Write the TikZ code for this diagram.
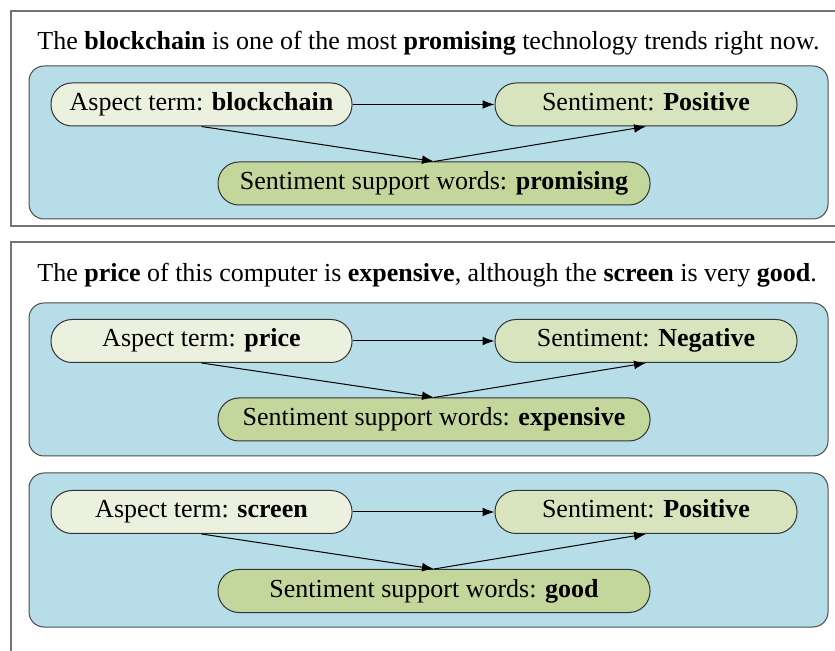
\documentclass[tikz,border=0pt]{standalone}
\usepackage{fontspec}
\setmainfont{Liberation Serif}
\usetikzlibrary{arrows.meta}

\definecolor{panelblue}{HTML}{B7DDE8}
\definecolor{aspectfill}{HTML}{EBF1DE}
\definecolor{sentifill}{HTML}{D7E4BD}
\definecolor{wordsfill}{HTML}{C3D69B}

\begin{document}
\begin{tikzpicture}[
    x=0.5pt, y=-0.5pt,
    outerbox/.style={draw=black!55, line width=0.8pt},
    panel/.style={draw=black!70, fill=panelblue, line width=0.5pt, rounded corners=7.5pt},
    term/.style={draw=black!80, line width=0.5pt, rounded corners=10.5pt, minimum height=21.5pt,
        inner sep=0pt, text height=9pt, text depth=3pt, font=\fontsize{13}{15}\selectfont},
    aspect/.style={term, fill=aspectfill, minimum width=150.5pt},
    senti/.style={term, fill=sentifill, minimum width=151pt},
    words/.style={term, fill=wordsfill, minimum width=216pt},
    sentence/.style={anchor=base west, inner sep=0pt, font=\fontsize{13}{15}\selectfont},
    link/.style={-{Latex[length=6pt,width=4.4pt]}, line width=0.5pt}
]
\useasboundingbox (0,0) rectangle (835,651);

% Outer frames
\draw[outerbox] (11,11) rectangle (880,226);
\draw[outerbox] (11,242) rectangle (880,690);

% First sentence
\node[sentence] (sent1) at (37,50) {The \textbf{blockchain} is one of the most \textbf{promising} technology trends right now.};
\draw[panel] (29,66) rectangle (828,219);
\node[aspect] (asp1) at (201.5,104.5) {Aspect term: \textbf{blockchain}};
\node[senti] (sen1) at (646,104.5) {Sentiment: \textbf{Positive}};
\node[words] (wrd1) at (434,183.5) {Sentiment support words: \textbf{promising}};
\draw[link] (asp1.east) -- (sen1.west);
\draw[link] (asp1.south) -- (wrd1.north);
\draw[link] (wrd1.north) -- (sen1.south);

% Second sentence
\node[sentence] (sent2) at (37,282) {The \textbf{price} of this computer is \textbf{expensive}, although the \textbf{screen} is very \textbf{good}.};

% Aspect: price
\draw[panel] (29,303) rectangle (828,456);
\node[aspect] (asp2) at (201.5,341) {Aspect term: \textbf{price}};
\node[senti] (sen2) at (646,341) {Sentiment: \textbf{Negative}};
\node[words] (wrd2) at (434,419.5) {Sentiment support words: \textbf{expensive}};
\draw[link] (asp2.east) -- (sen2.west);
\draw[link] (asp2.south) -- (wrd2.north);
\draw[link] (wrd2.north) -- (sen2.south);

% Aspect: screen
\draw[panel] (29,473) rectangle (828,627);
\node[aspect] (asp3) at (201.5,512) {Aspect term: \textbf{screen}};
\node[senti] (sen3) at (646,512) {Sentiment: \textbf{Positive}};
\node[words] (wrd3) at (434,591) {Sentiment support words: \textbf{good}};
\draw[link] (asp3.east) -- (sen3.west);
\draw[link] (asp3.south) -- (wrd3.north);
\draw[link] (wrd3.north) -- (sen3.south);

\end{tikzpicture}
\end{document}
